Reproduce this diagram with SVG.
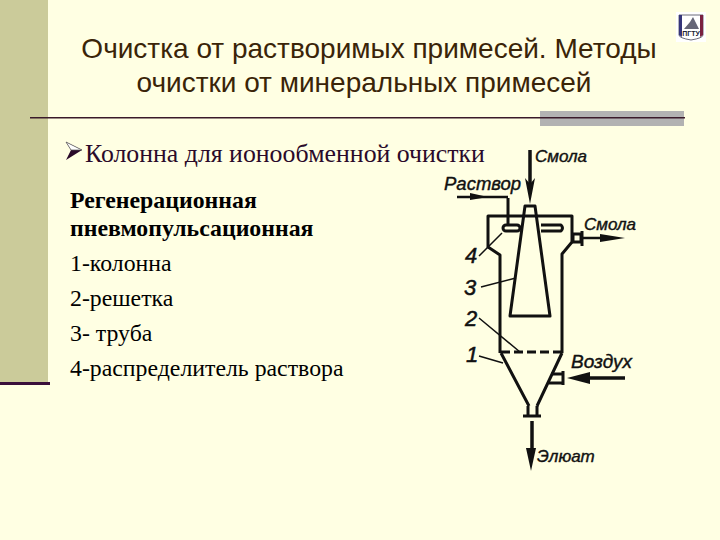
<svg xmlns="http://www.w3.org/2000/svg" width="720" height="540" viewBox="0 0 720 540">
<style>
.t{font-family:"Liberation Sans",Arial,sans-serif;font-size:28px;fill:#3a2408}
.b{font-family:"Liberation Serif","Times New Roman",serif;font-size:23.800px;fill:#000}
.d{fill:none;stroke:#111;stroke-width:3;stroke-linejoin:round}
.n{fill:none;stroke:#111;stroke-width:1.5}
.l{font-family:"Liberation Sans",Arial,sans-serif;font-style:italic;fill:#111;stroke:#111;stroke-width:.4;font-size:17px}
.num{font-family:"Liberation Sans",Arial,sans-serif;font-style:italic;fill:#111;stroke:#111;stroke-width:.5;font-size:22px}
</style>
<rect width="720" height="540" fill="#ffffe3"/>
<rect x="0" y="0" width="48" height="383" fill="#cbcb9a"/>
<rect x="0" y="382" width="50" height="3" fill="#3a0f3a"/>
<rect x="540" y="111" width="144" height="15" fill="#b2b2b2"/>
<rect x="30" y="117" width="655" height="1.5" fill="#3a1a2a"/>
<g id="title">
<text class="t" x="369" y="58" text-anchor="middle">Очистка от растворимых примесей. Методы</text>
<text class="t" x="364" y="92" text-anchor="middle">очистки от минеральных примесей</text>
</g>
<g id="logo">
<rect x="676" y="12" width="30" height="30" fill="#fff"/>
<path d="M679 15H703V35Q703 38 691 40Q679 38 679 35Z" fill="#fff" stroke="#445" stroke-width=".8"/>
<path d="M679 15H682V37L679 35Z" fill="#35357a"/>
<path d="M703 15H700V37L703 35Z" fill="#7a2040"/>
<path d="M684 29L690 22L693 17L699 29Z" fill="#667"/>
<rect x="683" y="29" width="16" height="8" fill="#fff"/>
<text x="691" y="36" font-family="Liberation Sans,sans-serif" font-size="7" font-weight="700" text-anchor="middle" fill="#223">ПГТУ</text>
</g>
<g id="bullet">
<path d="M66 142L82 150L66 160L71 150Z" fill="#2a0a2a"/>
<path d="M66 142L82 150L71 150Z" fill="#fff" stroke="#555" stroke-width=".7"/>
<text x="85" y="162" font-family="Liberation Serif,serif" font-size="25.800" fill="#2a0a2a">Колонна для ионообменной очистки</text>
</g>
<g id="text">
<text class="b" x="70" y="208" font-weight="700">Регенерационная</text>
<text class="b" x="70" y="236" font-weight="700">пневмопульсационная</text>
<text class="b" x="70" y="271">1-колонна</text>
<text class="b" x="70" y="306">2-решетка</text>
<text class="b" x="70" y="341">3- труба</text>
<text class="b" x="70" y="376">4-распределитель раствора</text>
</g>
<g id="column">
<path class="d" d="M500 353V255L488 247V216H572V242L562 254V353"/>
<path class="d" d="M501 353L529 406M562 353L537 406"/>
<path class="d" d="M525 206H535L550 316H510Z" fill="#ffffe3"/>
<path class="d" stroke-dasharray="9 4" d="M501 352H562"/>
<rect x="503" y="225" width="17" height="6" rx="3" class="d" stroke-width="2"/>
<path class="d" d="M541 225H561Q564 228 561 231H541"/>
<path class="d" d="M508 198V225"/>
<rect x="573" y="234" width="8" height="8" class="d" stroke-width="2"/>
<path class="d" d="M582 231V246"/>
<path class="d" d="M551 374H563M549 383H563M563 371V385" />
<path class="d" d="M528 406V416M537 406V416M523 416H541"/>
</g>
<g id="connectors" fill="#111">
<path d="M530 150V185" stroke="#111" stroke-width="3.500"/><path d="M525 178L530 204L535 178L530 184Z"/>
<path d="M457 197H508" stroke="#111" stroke-width="2.500"/><path d="M470 193L488 197L470 200Z"/>
<path d="M582 238H605" stroke="#111" stroke-width="2.500"/><path d="M600 234L625 238L600 242Z"/>
<path d="M625 378H580" stroke="#111" stroke-width="3.500"/><path d="M590 372L567 378L590 384Z"/>
<path d="M532 421V452" stroke="#111" stroke-width="3.500"/><path d="M526 448L531 471L536 448Z"/>
<path class="n" d="M479 256L502 233M481 287L516 278M479 318L520 352M479 356L503 363"/>
</g>
<g id="labels">
<text class="l" x="535" y="162">Смола</text>
<text class="l" x="444" y="190" style="font-size:18.500px">Раствор</text>
<text class="l" x="584" y="230">Смола</text>
<text class="l" x="571" y="368" style="font-size:19px">Воздух</text>
<text class="l" x="537" y="462">Элюат</text>
<text class="num" x="465" y="263">4</text>
<text class="num" x="464" y="295">3</text>
<text class="num" x="465" y="326">2</text>
<text class="num" x="466" y="362">1</text>
</g>
</svg>
